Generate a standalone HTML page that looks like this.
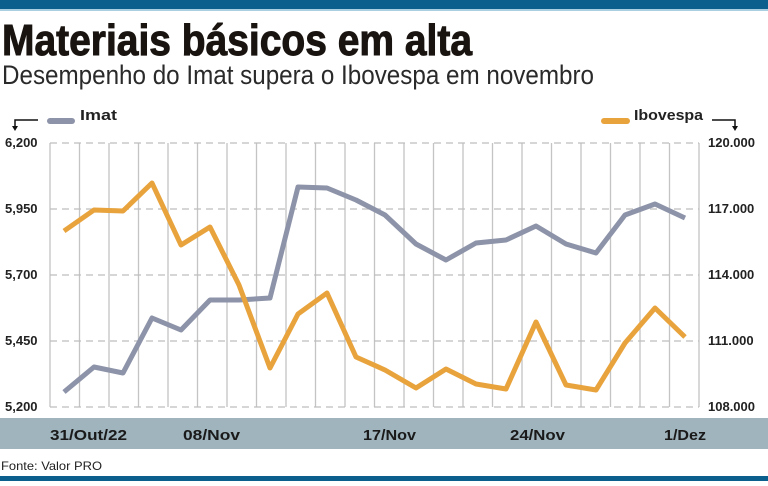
<!DOCTYPE html>
<html><head><meta charset="utf-8"><style>
body{margin:0;width:768px;height:481px;overflow:hidden;background:#fff;font-family:"Liberation Sans",sans-serif}
</style></head><body>
<svg width="768" height="481" viewBox="0 0 768 481" xmlns="http://www.w3.org/2000/svg" font-family="Liberation Sans, sans-serif">
<rect x="0" y="0" width="768" height="9" fill="#0b5f8c"/>
<rect x="0" y="9" width="768" height="2" fill="#a9cfe0"/>
<text x="2" y="55" font-size="44" font-weight="bold" fill="#1a1410" stroke="#1a1410" stroke-width="1" textLength="470" lengthAdjust="spacingAndGlyphs">Materiais básicos em alta</text>
<text x="2" y="84" font-size="27" fill="#2a2a2a" textLength="592" lengthAdjust="spacingAndGlyphs">Desempenho do Imat supera o Ibovespa em novembro</text>
<!-- legend -->
<path d="M38 120 H15 V128" stroke="#111" stroke-width="1.5" fill="none"/><path d="M12 126 L15 131 L18 126Z" fill="#111"/>
<line x1="50" y1="121" x2="72" y2="121" stroke="#8d93a8" stroke-width="6" stroke-linecap="round"/>
<text x="80" y="120" font-size="15" font-weight="bold" fill="#222" textLength="37" lengthAdjust="spacingAndGlyphs">Imat</text>
<line x1="604" y1="121" x2="627" y2="121" stroke="#e8a33d" stroke-width="6" stroke-linecap="round"/>
<text x="634" y="120" font-size="15" font-weight="bold" fill="#222" textLength="69" lengthAdjust="spacingAndGlyphs">Ibovespa</text>
<path d="M712 120 H735 V128" stroke="#111" stroke-width="1.5" fill="none"/><path d="M732 126 L735 131 L738 126Z" fill="#111"/>
<!-- grid -->
<g stroke="#c4c4c4" stroke-width="1.3">
<line x1="50" y1="143" x2="50" y2="407"/><line x1="79.5" y1="143" x2="79.5" y2="407"/><line x1="109" y1="143" x2="109" y2="407"/><line x1="138.5" y1="143" x2="138.5" y2="407"/><line x1="168" y1="143" x2="168" y2="407"/><line x1="197.5" y1="143" x2="197.5" y2="407"/><line x1="227" y1="143" x2="227" y2="407"/><line x1="256.5" y1="143" x2="256.5" y2="407"/><line x1="286" y1="143" x2="286" y2="407"/><line x1="315.5" y1="143" x2="315.5" y2="407"/><line x1="345" y1="143" x2="345" y2="407"/><line x1="374.5" y1="143" x2="374.5" y2="407"/><line x1="404" y1="143" x2="404" y2="407"/><line x1="433.5" y1="143" x2="433.5" y2="407"/><line x1="463" y1="143" x2="463" y2="407"/><line x1="492.5" y1="143" x2="492.5" y2="407"/><line x1="522" y1="143" x2="522" y2="407"/><line x1="551.5" y1="143" x2="551.5" y2="407"/><line x1="581" y1="143" x2="581" y2="407"/><line x1="610.5" y1="143" x2="610.5" y2="407"/><line x1="640" y1="143" x2="640" y2="407"/><line x1="669.5" y1="143" x2="669.5" y2="407"/><line x1="699" y1="143" x2="699" y2="407"/>
</g>
<g stroke="#bdbdbd" stroke-width="1.3" stroke-dasharray="7,5">
<line x1="50" y1="143" x2="699" y2="143"/><line x1="50" y1="209" x2="699" y2="209"/><line x1="50" y1="275" x2="699" y2="275"/><line x1="50" y1="341" x2="699" y2="341"/><line x1="50" y1="407" x2="699" y2="407"/>
</g>
<g font-size="13" font-weight="bold" fill="#222">
<text x="5" y="147">6,200</text><text x="5" y="213">5,950</text><text x="5" y="279">5,700</text><text x="5" y="345">5,450</text><text x="5" y="411">5,200</text>
<text x="708" y="147">120.000</text><text x="708" y="213">117.000</text><text x="708" y="279">114.000</text><text x="708" y="345">111.000</text><text x="708" y="411">108.000</text>
</g>
<polyline fill="none" stroke="#8d93a8" stroke-width="5" stroke-linejoin="round" points="64,392 94,367 123,373 152,318 181,330 210,300 239,300 270,298 298,187 327,188 356,200 385,215 416,244 446,260 476,243 506,240 536,226 566,244 596,253 625,215 655,204 685,218"/>
<polyline fill="none" stroke="#e8a33d" stroke-width="5" stroke-linejoin="round" points="64,231 94,210 123,211 152,183 181,245 210,227 239,285 270,368 298,314 327,293 356,357 385,370 416,388 446,369 476,384 506,389 536,322 566,385 596,390 625,343 655,308 685,337"/>
<rect x="0" y="418" width="768" height="31" fill="#9fb4bc"/>
<g font-size="15" font-weight="bold" fill="#1a1a1a">
<text x="50" y="440" textLength="77" lengthAdjust="spacingAndGlyphs">31/Out/22</text>
<text x="183" y="440" textLength="57" lengthAdjust="spacingAndGlyphs">08/Nov</text>
<text x="363" y="440" textLength="53" lengthAdjust="spacingAndGlyphs">17/Nov</text>
<text x="510" y="440" textLength="55" lengthAdjust="spacingAndGlyphs">24/Nov</text>
<text x="664" y="440" textLength="42" lengthAdjust="spacingAndGlyphs">1/Dez</text>
</g>
<text x="1" y="470" font-size="12" fill="#222" textLength="101" lengthAdjust="spacingAndGlyphs">Fonte: Valor PRO</text>
<rect x="0" y="476" width="768" height="5" fill="#0b5f8c"/>
</svg>
</body></html>
